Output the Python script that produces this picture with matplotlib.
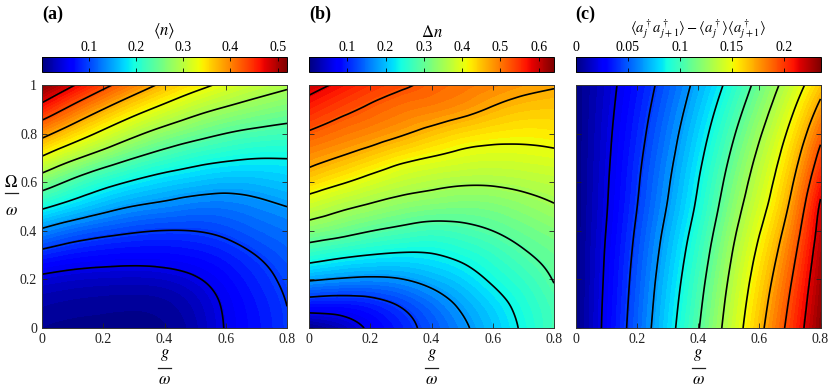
import numpy as np
import matplotlib.pyplot as plt
import matplotlib.tri as mtri
from matplotlib.cm import ScalarMappable
from matplotlib.colors import Normalize
from matplotlib.lines import Line2D

plt.rcParams['font.family'] = ['Liberation Serif', 'DejaVu Serif']
plt.rcParams['mathtext.fontset'] = 'stix'

# grid: columns = g/omega, rows = Omega/omega
g_vals = [0.0, 0.1, 0.2, 0.3, 0.4, 0.5, 0.6, 0.7, 0.8]
omega_vals = [0.0, 0.1, 0.2, 0.3, 0.4, 0.5, 0.6, 0.7, 0.8, 0.9, 1.0]

# (a) <n>
n_mean = [
    [0.008, 0.005, 0.004, 0.003, 0.007, 0.022, 0.049, 0.071, 0.093],
    [0.018, 0.014, 0.012, 0.011, 0.014, 0.028, 0.052, 0.074, 0.095],
    [0.040, 0.034, 0.031, 0.030, 0.033, 0.044, 0.062, 0.082, 0.101],
    [0.082, 0.071, 0.065, 0.062, 0.063, 0.068, 0.079, 0.095, 0.111],
    [0.136, 0.118, 0.106, 0.098, 0.094, 0.095, 0.102, 0.114, 0.124],
    [0.196, 0.174, 0.155, 0.141, 0.133, 0.126, 0.126, 0.133, 0.142],
    [0.259, 0.228, 0.203, 0.185, 0.172, 0.163, 0.157, 0.159, 0.166],
    [0.326, 0.291, 0.262, 0.237, 0.218, 0.204, 0.195, 0.190, 0.190],
    [0.390, 0.355, 0.322, 0.292, 0.268, 0.250, 0.236, 0.227, 0.222],
    [0.455, 0.414, 0.378, 0.346, 0.319, 0.296, 0.279, 0.266, 0.256],
    [0.520, 0.476, 0.436, 0.401, 0.370, 0.344, 0.322, 0.304, 0.290],
]

# (b) Delta n
delta_n = [
    [0.003, 0.030, 0.065, 0.098, 0.132, 0.166, 0.202, 0.239, 0.277],
    [0.092, 0.090, 0.100, 0.122, 0.151, 0.183, 0.215, 0.248, 0.279],
    [0.180, 0.171, 0.167, 0.173, 0.190, 0.211, 0.239, 0.264, 0.293],
    [0.256, 0.242, 0.232, 0.227, 0.230, 0.243, 0.262, 0.285, 0.304],
    [0.323, 0.308, 0.292, 0.280, 0.272, 0.278, 0.291, 0.307, 0.322],
    [0.379, 0.359, 0.343, 0.329, 0.320, 0.316, 0.320, 0.332, 0.346],
    [0.436, 0.413, 0.391, 0.373, 0.362, 0.355, 0.355, 0.361, 0.369],
    [0.481, 0.463, 0.442, 0.420, 0.405, 0.394, 0.389, 0.391, 0.396],
    [0.519, 0.502, 0.487, 0.470, 0.451, 0.434, 0.424, 0.420, 0.423],
    [0.558, 0.535, 0.517, 0.502, 0.492, 0.479, 0.461, 0.449, 0.446],
    [0.600, 0.573, 0.548, 0.530, 0.515, 0.503, 0.491, 0.478, 0.469],
]

# (c) <a_j+ a_j+1+> - <a_j+><a_j+1+>
corr = [
    [0.0, 0.0253, 0.0515, 0.0782, 0.1056, 0.1350, 0.1660, 0.1980, 0.2330],
    [0.0, 0.0246, 0.0501, 0.0762, 0.1030, 0.1322, 0.1625, 0.1943, 0.2304],
    [0.0, 0.0237, 0.0486, 0.0739, 0.1001, 0.1289, 0.1585, 0.1900, 0.2276],
    [0.0, 0.0228, 0.0468, 0.0712, 0.0967, 0.1251, 0.1538, 0.1850, 0.2242],
    [0.0, 0.0216, 0.0447, 0.0681, 0.0927, 0.1208, 0.1484, 0.1793, 0.2203],
    [0.0, 0.0204, 0.0424, 0.0647, 0.0884, 0.1160, 0.1425, 0.1730, 0.2160],
    [0.0, 0.0196, 0.0407, 0.0622, 0.0851, 0.1115, 0.1374, 0.1669, 0.2072],
    [0.0, 0.0187, 0.0389, 0.0595, 0.0815, 0.1067, 0.1321, 0.1604, 0.1978],
    [0.0, 0.0178, 0.0368, 0.0566, 0.0776, 0.1014, 0.1262, 0.1532, 0.1874],
    [0.0, 0.0167, 0.0346, 0.0533, 0.0733, 0.0956, 0.1196, 0.1453, 0.1760],
    [0.0, 0.0156, 0.0323, 0.0499, 0.0688, 0.0895, 0.1128, 0.1370, 0.1640],
]

panels = [
    (n_mean, 0.0, 0.52, [0.1, 0.2, 0.3, 0.4, 0.5], ['0.1', '0.2', '0.3', '0.4', '0.5'],
     r'$\langle n\rangle$', 12, '(a)'),
    (delta_n, 0.0, 0.64, [0.1, 0.2, 0.3, 0.4, 0.5, 0.6], ['0.1', '0.2', '0.3', '0.4', '0.5', '0.6'],
     r'$\Delta n$', 12, '(b)'),
    (corr, 0.0, 0.235, [0.0, 0.05, 0.1, 0.15, 0.2], ['0', '0.05', '0.1', '0.15', '0.2'],
     r'$\langle a_j^\dagger a_{j+1}^\dagger\rangle - \langle a_j^\dagger\rangle\langle a_{j+1}^\dagger\rangle$',
     10.5, '(c)'),
]

# regular triangulation of the grid (same diagonal in every cell)
nx, ny = len(g_vals), len(omega_vals)
G, W = np.meshgrid(g_vals, omega_vals)
triangles = []
for j in range(ny - 1):
    for i in range(nx - 1):
        a = j * nx + i
        triangles.append([a, a + 1, a + nx])
        triangles.append([a + 1, a + nx + 1, a + nx])
tri = mtri.Triangulation(G.ravel(), W.ravel(), triangles)
refiner = mtri.UniformTriRefiner(tri)

FW, FH = 830.0, 388.0
fig = plt.figure(figsize=(FW / 100, FH / 100), dpi=100)
lefts = [0.0506, 0.3723, 0.6934]


def frac_label(xc, y_num, y_bar, y_den, num, den, half=6.5):
    # stacked fraction like the MATLAB labels (positions in pixels from top-left)
    fig.text(xc / FW, 1 - y_num / FH, num, ha='center', va='center', fontsize=12)
    fig.text(xc / FW, 1 - y_den / FH, den, ha='center', va='center', fontsize=12)
    fig.add_artist(Line2D([(xc - half) / FW, (xc + half) / FW],
                          [1 - y_bar / FH, 1 - y_bar / FH],
                          transform=fig.transFigure, color='#222222', lw=0.9))


for i, (z, vmin, vmax, cticks, clabels, title, tsize, letter) in enumerate(panels):
    ax = fig.add_axes([lefts[i], 0.1546, 0.2952, 0.6263])
    cax = fig.add_axes([lefts[i], 0.8144, 0.2952, 0.0387])

    zz = np.asarray(z).ravel()
    interp = mtri.CubicTriInterpolator(tri, zz, kind='min_E')
    tri_f, z_f = refiner.refine_field(zz, triinterpolator=interp, subdiv=4)
    z_f = np.clip(z_f, vmin, vmax)
    ax.tricontourf(tri_f, z_f, levels=np.linspace(vmin, vmax, 64), cmap='jet',
                   vmin=vmin, vmax=vmax)
    ax.tricontour(tri_f, z_f, levels=np.linspace(vmin, vmax, 12)[1:-1],
                  colors='k', linewidths=1.2)

    ax.set_xlim(0, 0.8)
    ax.set_ylim(0, 1)
    ax.set_xticks([0, 0.2, 0.4, 0.6, 0.8])
    ax.set_xticklabels(['0', '0.2', '0.4', '0.6', '0.8'])
    ax.set_yticks([0, 0.2, 0.4, 0.6, 0.8, 1.0])
    ax.tick_params(direction='in', top=True, right=True, length=3.5, width=0.6,
                   labelsize=10, colors='#222222')
    if i == 0:
        ax.set_yticklabels(['0', '0.2', '0.4', '0.6', '0.8', '1'])
        frac_label(11, 183, 193, 211, r'$\Omega$', r'$\omega$')
    else:
        ax.set_yticklabels([])
    xc = (lefts[i] + 0.2952 / 2) * FW
    frac_label(xc, 355, 368, 380, r'$g$', r'$\omega$')
    for s in ax.spines.values():
        s.set_linewidth(0.7)
        s.set_color('#333333')

    sm = ScalarMappable(norm=Normalize(vmin, vmax), cmap='jet')
    cb = fig.colorbar(sm, cax=cax, orientation='horizontal')
    cb.set_ticks(cticks)
    cb.set_ticklabels(clabels)
    cax.tick_params(axis='x', direction='in', top=True, bottom=True,
                    labeltop=True, labelbottom=False, length=3, width=0.6,
                    labelsize=10, pad=2)
    cb.outline.set_linewidth(0.7)
    cax.set_title(title, fontsize=tsize, pad=3)

    fig.text(lefts[i], 0.985, letter, ha='left', va='top', fontsize=13,
             fontweight='bold')

fig.savefig('out.png', dpi=100)
